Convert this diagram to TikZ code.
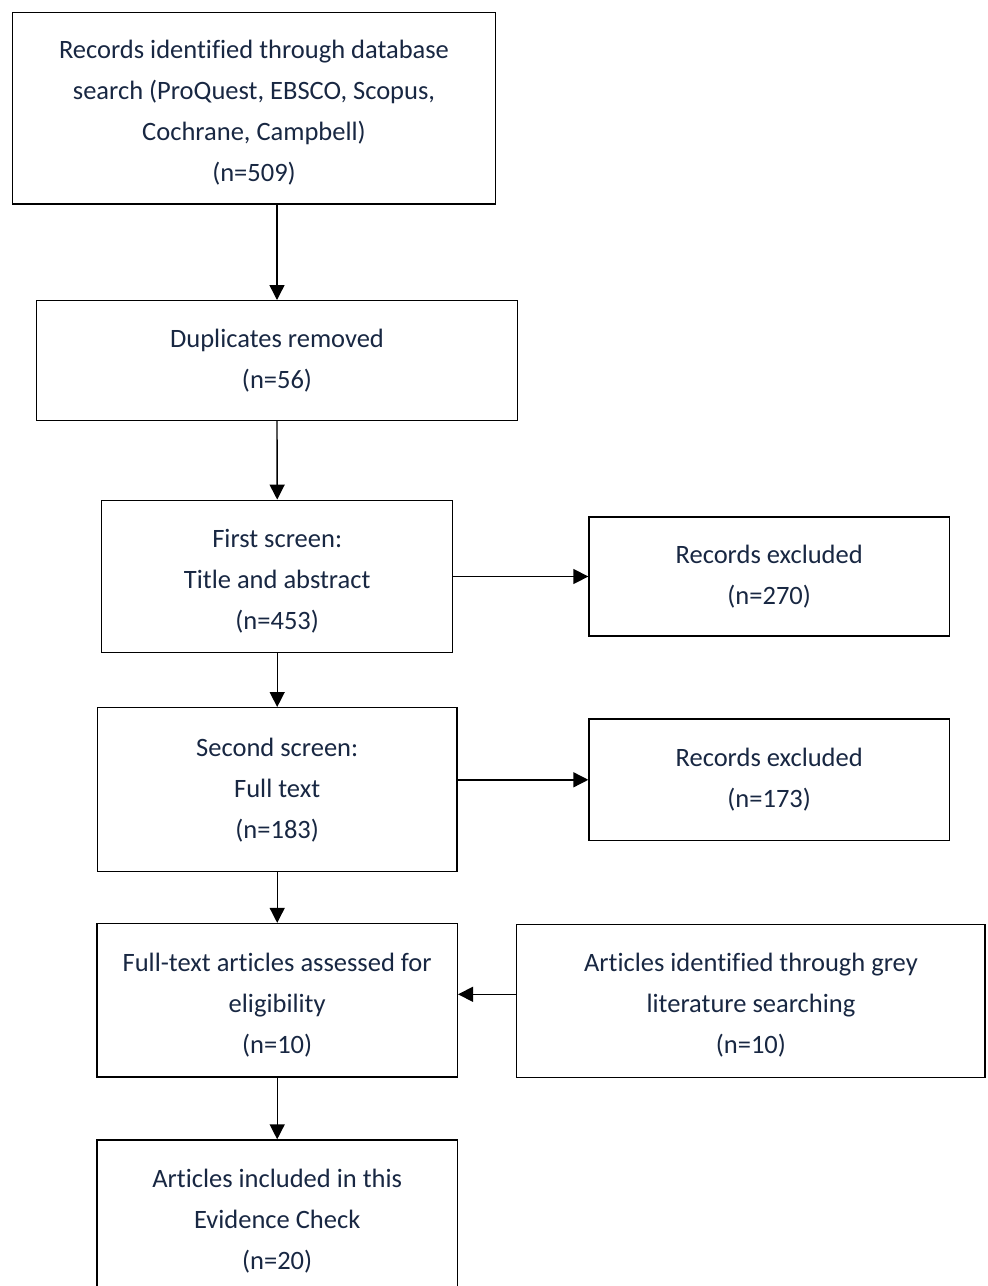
\documentclass[tikz,border=0pt]{standalone}
\usepackage{fontspec}
\setmainfont{Carlito}[Ligatures=NoCommon]
\usetikzlibrary{arrows.meta}
\definecolor{txt}{RGB}{24,39,66}
\tikzset{
  flowbox/.style={draw=black, line width=1.4pt, rectangle, inner sep=0pt,
    align=center, text=txt, font=\fontsize{26.5}{41}\selectfont},
  arr/.style={line width=1.4pt, draw=black, -{Triangle[length=15pt,width=15pt]}}
}
\newcommand{\lowertext}[1]{\rule{0pt}{#1}}
\begin{document}
\begin{tikzpicture}[x=1pt,y=-1pt]
\useasboundingbox (0,0) rectangle (988,1286);
\clip (0,0) rectangle (988,1286);
\node[flowbox, minimum width=483pt, minimum height=191.5pt] (b1) at (254,108.2)
  {\lowertext{27.5pt}Records identified through database\\search (ProQuest, EBSCO, Scopus,\\Cochrane, Campbell)\\(n=509)};
\node[flowbox, minimum width=480.6pt, minimum height=119.6pt] (b2) at (277,360.5)
  {Duplicates removed\\(n=56)};
\node[flowbox, minimum width=351pt, minimum height=152.4pt] (b3) at (277.2,576.5)
  {\lowertext{27.5pt}First screen:\\Title and abstract\\(n=453)};
\node[flowbox, minimum width=360.3pt, minimum height=119.3pt] (r1) at (769.2,576.5)
  {Records excluded\\(n=270)};
\node[flowbox, minimum width=359.7pt, minimum height=164pt] (b4) at (277.2,789.7)
  {Second screen:\\Full text\\(n=183)};
\node[flowbox, minimum width=360.3pt, minimum height=121.7pt] (r2) at (769.2,779.8)
  {Records excluded\\(n=173)};
\node[flowbox, minimum width=360.3pt, minimum height=153.5pt] (b5) at (277.2,1000.3)
  {\lowertext{27.5pt}Full-text articles assessed for\\eligibility\\(n=10)};
\node[flowbox, minimum width=468.3pt, minimum height=153pt] (r3) at (750.9,1000.8)
  {\lowertext{27.5pt}Articles identified through grey\\literature searching\\(n=10)};
\node[flowbox, minimum width=360.3pt, minimum height=158pt] (b6) at (277.2,1219)
  {\lowertext{23.5pt}Articles included in this\\Evidence Check\\(n=20)};
\draw[arr] (b2.north |- b1.south) -- (b2.north);
\draw[arr] (b2.south) -- (b3.north);
\draw[arr] (b3.south) -- (b4.north);
\draw[arr] (b4.south) -- (b5.north);
\draw[arr] (b5.south) -- (b6.north);
\draw[arr] (b3.east) -- (b3.east -| r1.west);
\draw[arr] (b4.east |- r2.west) -- (r2.west);
\coordinate (g) at ([yshift=6.5pt]r3.west);
\draw[arr] (g) -- (g -| b5.east);
\end{tikzpicture}
\end{document}
